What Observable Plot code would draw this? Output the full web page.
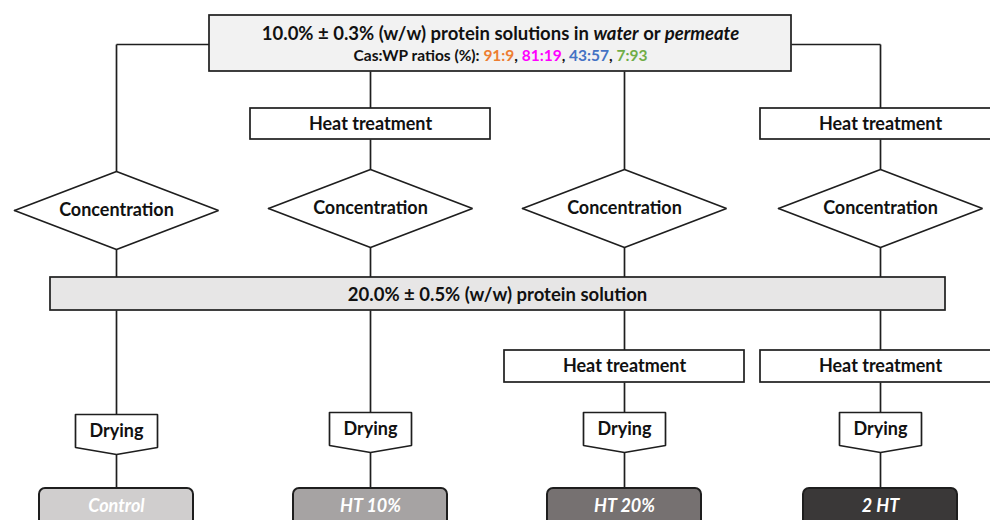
<!DOCTYPE html>
<html><head><meta charset="utf-8">
<script src="https://cdn.jsdelivr.net/npm/d3@7"></script>
<script src="https://cdn.jsdelivr.net/npm/@observablehq/plot@0.6"></script>
<style>body{margin:0;background:#fff} svg{display:block}</style>
</head><body><div id="chart"></div>
<script>
// ---- content (text labels) ----
const titleParts = ["10.0% ± 0.3% (w/w) protein solutions in ", "water", " or ", "permeate"];
const titleItalic = [false, true, false, true];
const ratioPrefix = "Cas:WP ratios (%): ";
const ratios = ["91:9", "81:19", "43:57", "7:93"];
const ratioColors = ["#ED7D31", "#FF00FF", "#4472C4", "#70AD47"];
const stepHeat = "Heat treatment";
const stepConc = "Concentration";
const stepDry = "Drying";
const midLabel = "20.0% ± 0.5% (w/w) protein solution";
const treatments = ["Control", "HT 10%", "HT 20%", "2 HT"];
const treatmentFills = ["#d0cece", "#a6a3a3", "#767171", "#3a3838"];
// which columns have heat treatment before / after concentration
const heatBefore = [false, true, false, true];
const heatAfter = [false, false, true, true];

// ---- layout (pixel space) ----
const colX = [116, 370, 624, 880];
const topBox = {x1: 209, x2: 791, y1: 15, y2: 71};
const midBox = {x1: 50, x2: 945, y1: 277, y2: 310};
const htTop = {y1: 108, y2: 139};
const htLow = {y1: 350, y2: 382};
const htHalf = 120;
const diaCy = [210, 208, 208, 208];
const diaHW = 102, diaHH = 39;
const dryTop = [414, 412, 412, 412], dryHW = 41, drySide = 33, dryTip = 40;
const finalTop = 488, finalHW = 77;
const stepSize = 18;

// build shapes
const boxes = [];
const texts = [];
const polys = [];
const links = [];
const finals = [];

boxes.push({...topBox, fill: "#f2f2f2"});
boxes.push({...midBox, fill: "#e7e6e6"});
texts.push({x: (topBox.x1 + topBox.x2) / 2, y: 34, t: titleParts.join(""), size: 18.5});
texts.push({x: (topBox.x1 + topBox.x2) / 2, y: 56, t: ratioPrefix + ratios.join(", "), size: 15.5});
texts.push({x: 497, y: 295, t: midLabel, size: 18.5});

colX.forEach((cx, i) => {
  let y = topBox.y2;
  if (i === 0) { links.push({x1: topBox.x1, y1: 44, x2: cx, y2: 44}); y = 44; }
  if (i === 3) { links.push({x1: topBox.x2, y1: 44, x2: cx, y2: 44}); y = 44; }
  if (heatBefore[i]) {
    links.push({x1: cx, y1: y, x2: cx, y2: htTop.y1});
    boxes.push({x1: cx - htHalf, x2: cx + htHalf, y1: htTop.y1, y2: htTop.y2, fill: "white"});
    texts.push({x: cx, y: (htTop.y1 + htTop.y2) / 2, t: stepHeat, size: stepSize});
    y = htTop.y2;
  }
  const cy = diaCy[i];
  links.push({x1: cx, y1: y, x2: cx, y2: cy - diaHH});
  [[cx - diaHW, cy], [cx, cy - diaHH], [cx + diaHW, cy], [cx, cy + diaHH], [cx - diaHW, cy]]
    .forEach(([x, yy]) => polys.push({id: "d" + i, x, y: yy}));
  texts.push({x: cx, y: cy, t: stepConc, size: stepSize});
  links.push({x1: cx, y1: cy + diaHH, x2: cx, y2: midBox.y1});
  y = midBox.y2;
  if (heatAfter[i]) {
    links.push({x1: cx, y1: y, x2: cx, y2: htLow.y1});
    boxes.push({x1: cx - htHalf, x2: cx + htHalf, y1: htLow.y1, y2: htLow.y2, fill: "white"});
    texts.push({x: cx, y: (htLow.y1 + htLow.y2) / 2, t: stepHeat, size: stepSize});
    y = htLow.y2;
  }
  const dt = dryTop[i];
  links.push({x1: cx, y1: y, x2: cx, y2: dt});
  [[cx - dryHW, dt], [cx + dryHW, dt], [cx + dryHW, dt + drySide], [cx, dt + dryTip], [cx - dryHW, dt + drySide], [cx - dryHW, dt]]
    .forEach(([x, yy]) => polys.push({id: "p" + i, x, y: yy}));
  texts.push({x: cx, y: dt + 17, t: stepDry, size: stepSize});
  links.push({x1: cx, y1: dt + dryTip, x2: cx, y2: finalTop});
  finals.push({x1: cx - finalHW, x2: cx + finalHW, y1: finalTop, y2: 540, fill: treatmentFills[i], t: treatments[i], cx});
});

const ink = "#1e1e1e";
const font = "Lato, 'Open Sans', sans-serif";

const chart = Plot.plot({
  width: 990, height: 520,
  margin: 0,
  x: {domain: [0, 990], axis: null},
  y: {domain: [0, 520], range: [0, 520], axis: null},
  style: {fontFamily: font, background: "white"},
  marks: [
    Plot.link(links, {x1: "x1", y1: "y1", x2: "x2", y2: "y2", stroke: ink, strokeWidth: 1.7}),
    Plot.rect(boxes, {x1: "x1", x2: "x2", y1: "y1", y2: "y2", fill: "fill", stroke: ink, strokeWidth: 1.7, clip: true}),
    Plot.line(polys, {x: "x", y: "y", z: "id", fill: "white", stroke: ink, strokeWidth: 1.7, strokeLinejoin: "miter"}),
    Plot.rect(finals, {x1: "x1", x2: "x2", y1: "y1", y2: "y2", fill: "fill", stroke: ink, strokeWidth: 2, rx: 6, clip: true}),
    Plot.text(finals, {x: "cx", y: 506, text: "t", fill: "white", fontSize: 18, fontWeight: "bold", fontStyle: "italic"}),
    Plot.text(texts, {x: "x", y: "y", text: "t", fontSize: "size", fill: "#111", fontWeight: "bold"})
  ]
});

// rich text: italics in title, coloured ratios
chart.querySelectorAll("text").forEach(el => {
  const s = el.textContent;
  const mk = (txt) => { const ts = document.createElementNS("http://www.w3.org/2000/svg", "tspan"); ts.textContent = txt; el.appendChild(ts); return ts; };
  if (s === titleParts.join("")) {
    el.textContent = "";
    titleParts.forEach((p, k) => { const ts = mk(p); if (titleItalic[k]) ts.setAttribute("font-style", "italic"); });
  } else if (s === ratioPrefix + ratios.join(", ")) {
    el.textContent = "";
    mk(ratioPrefix);
    ratios.forEach((r, k) => { mk(r).setAttribute("fill", ratioColors[k]); if (k < ratios.length - 1) mk(", "); });
  }
});
document.getElementById("chart").appendChild(chart);
</script></body></html>
